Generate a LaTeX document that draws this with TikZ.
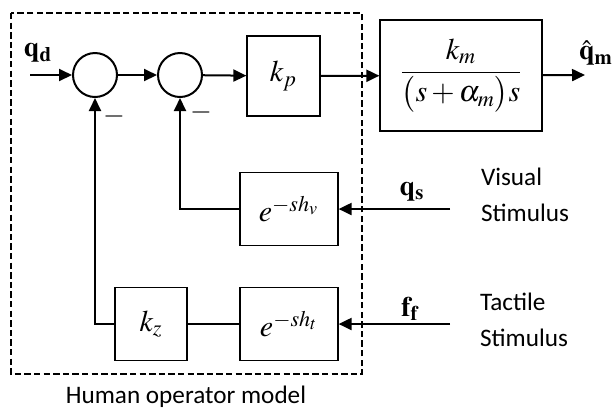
\documentclass[tikz,border=0pt]{standalone}
\usepackage{amsmath}
\usepackage{mathptmx}
\usepackage{fontspec}
\setmainfont{Carlito}
\usetikzlibrary{arrows.meta,positioning}

\tikzset{
  blk/.style={draw, line width=0.6pt, inner sep=0pt, minimum width=#1, minimum height=36.5pt},
  blk/.default=49pt,
  sumnode/.style={draw, circle, line width=1pt, minimum size=22pt, inner sep=0pt},
  sig/.style={line width=1pt},
  mathtxt/.style={font=\fontsize{15}{18}\selectfont},
  lbl/.style={font=\fontsize{14}{16}\selectfont},
  stim/.style={font=\fontsize{12.6}{18}\selectfont, align=left, anchor=west},
}

\begin{document}
\begin{tikzpicture}[x=0.5pt, y=-0.5pt, >={Triangle[length=6.5pt,width=6pt]}]
		
		\useasboundingbox (0,0) rectangle (613,409);
		
		% =========================================================
		% Human operator model (dashed frame)
		% =========================================================
		\draw[line width=1pt, dash pattern=on 3.2pt off 1.6pt] (11,13) rectangle (362,374);
		\node[font=\fontsize{12.6}{15}\selectfont] (hom) at (186,397) {Human operator model};
		
		% Summing junctions
		\node[sumnode] (s1) at (95,75) {};
		\node[sumnode] (s2) at (180,75) {};
		
		% Blocks
		\node[blk=36.5pt, minimum height=40pt, mathtxt] (kp) at (283.5,76) {$k_p$};
		\node[blk=81pt, minimum height=55.5pt, mathtxt] (plant) at (461,75.5)
		{$\dfrac{k_m}{\bigl(s+\alpha_m\bigr)s}$};
		\node[blk, mathtxt] (ev) at (289,209) {$e^{-sh_v}$};
		\node[blk, mathtxt] (et) at (289,324) {$e^{-sh_t}$};
		\node[blk=36pt, mathtxt] (kz) at (151,324) {$k_z$};
		
		% Free ends
		\coordinate (qdin) at (30,75);
		\coordinate (qmout) at (585,75);
		\coordinate (qsin) at (450,209);
		\coordinate (ffin) at (450,324);
		
		% Forward path
		\draw[sig,->] (qdin) -- (s1);
		\draw[sig,->] (s1) -- (s2);
		\draw[sig,->] (s2) -- (kp);
		\draw[sig,->] (kp) -- (plant);
		\draw[sig,->] (plant) -- (qmout);
		
		% Stimuli and feedback
		\draw[sig,->] (qsin) -- (ev);
		\draw[sig,->] (ffin) -- (et);
		\draw[sig] (et) -- (kz);
		\draw[sig,->] (ev.west) -| (s2);
		\draw[sig,->] (kz.west) -| (s1);
		
		% Signal labels
		\node[lbl] (lqd) at (38,53) {$\mathbf{q}_{\mathbf{d}}$};
		\node[lbl] (lqm) at (596,53) {$\hat{\mathbf{q}}_{\mathbf{m}}$};
		\node[lbl] (lqs) at (412,192) {$\mathbf{q}_{\mathbf{s}}$};
		\node[lbl] (lff) at (410,309) {$\mathbf{f}_{\mathbf{f}}$};
		\node[lbl] (m1) at (114,116) {$-$};
		\node[lbl] (m2) at (201,112) {$-$};
		
		% Stimulus texts
		\node[stim] (vis) at (474,195) {Visual\\Stimulus};
		\node[stim] (tac) at (473,320) {Tactile\\Stimulus};
		
	\end{tikzpicture}
\end{document}
